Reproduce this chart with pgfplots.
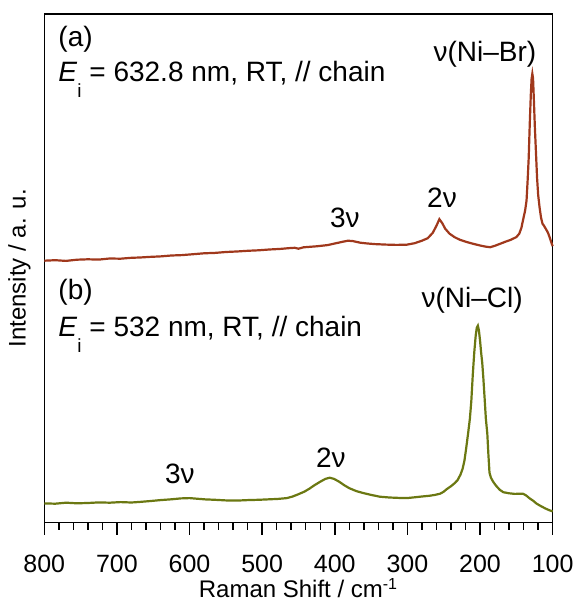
\documentclass[border=0pt]{standalone}
\usepackage{fontspec}
\setmainfont{Liberation Sans}
\usepackage{pgfplots}
\pgfplotsset{compat=1.18}
\definecolor{brbrown}{HTML}{A0381C}
\definecolor{clolive}{HTML}{6B7812}

\pgfplotstableread{
x y
800 262.0
785 262.5
770 261.8
755 263.0
740 263.4
725 263.1
710 264.2
695 264.0
680 264.9
668 265.2
655 265.8
640 266.3
625 267.2
610 267.6
595 268.5
580 269.4
565 269.8
550 270.7
535 271.2
520 271.9
505 272.4
490 273.2
475 273.8
462 274.6
455 274.9
450 274.0
443 275.4
425 276.4
410 277.6
400 279.2
390 280.8
382 282.0
375 281.6
365 280.0
355 279.2
345 278.6
330 278.1
315 277.8
301 278.0
290 279.5
280 282.0
272 284.5
265 290.0
260 297.0
256 303.5
252 299.5
248 294.0
242 289.0
235 285.5
228 283.0
219 280.8
210 279.0
200 277.2
192 276.0
186 275.5
180 276.8
172 279.0
165 281.0
158 282.8
150 285.6
146 289.0
143 295.0
141 302.0
138 312.0
136 322.0
134.5 342.0
133 365.0
131.5 400.0
130 430.0
129 444.0
128 449.0
127 444.0
126 425.0
124.5 395.0
123 370.0
121.5 345.0
120 328.0
118 315.0
116 305.0
114 299.0
112 297.0
110 294.5
108 292.0
106.5 290.0
104 285.0
102 280.5
100 276.5
}\specA

\pgfplotstableread{
x y
800 19.3
785 19.0
770 20.0
755 19.4
740 19.7
725 20.3
710 20.0
695 20.6
680 20.2
668 20.8
655 21.6
640 22.6
625 23.4
612 24.3
600 24.6
590 24.0
578 23.3
565 22.9
550 22.3
535 22.1
520 22.6
505 22.9
490 23.4
478 23.8
466 24.6
458 26.2
450 28.5
442 31.0
435 34.0
428 37.5
420 41.0
413 43.8
407 45.0
401 43.8
394 41.0
387 37.5
380 34.5
370 31.5
360 29.5
350 27.8
338 26.0
325 25.2
312 24.8
301 24.6
290 25.4
280 26.2
270 26.9
262 27.8
255 29.0
250 31.0
246 33.5
240 36.5
235 39.5
231 42.5
227 48.0
224 54.0
221.5 62.0
219 75.0
216.5 89.0
214 104.0
212 122.0
210 148.0
208 170.0
206 187.0
204.5 195.0
203 197.0
201.5 192.0
200 182.0
198.5 170.0
197 160.0
195.5 145.0
193.5 122.0
192 104.0
190 89.0
188.5 68.0
187 50.0
185 45.0
182 41.0
178 37.0
173 33.0
168 30.5
160 29.4
152 28.8
145 29.0
141 29.0
137 27.5
132 24.5
127 22.0
122 19.0
116 16.5
110 14.2
105 12.6
100 11.3
}\specB

\begin{document}
\begin{tikzpicture}
\begin{axis}[
  scale only axis,
  width=254.2pt, height=254.35pt,
  x dir=reverse,
  xmin=100, xmax=800, ymin=0, ymax=508.7,
  xtick={100,200,...,800},
  minor x tick num=4,
  xtick pos=bottom,
  tick align=outside,
  major tick length=6pt,
  minor tick length=3.5pt,
  ytick=\empty,
  axis line style={line width=0.75pt},
  every tick/.style={black, line width=0.75pt},
  /pgf/number format/assume math mode=true,
  tick label style={font=\fontsize{12.5}{14}\selectfont},
  xticklabel style={anchor=base, yshift=-19pt},
  xlabel={Raman Shift / cm\textsuperscript{-1}},
  xlabel style={font=\fontsize{12}{14}\selectfont, at={(axis description cs:0.5,0)}, anchor=base, yshift=-37.6pt},
  ylabel={Intensity / a. u.},
  ylabel style={font=\fontsize{12}{14}\selectfont, at={(axis description cs:-0.026,0.5)}, anchor=south, inner sep=0pt},
  clip=false,
]
\addplot[brbrown, line width=1.1pt] table[x=x, y=y] {\specA};
\addplot[clolive, line width=1.1pt] table[x=x, y=y] {\specB};

\begin{scope}[every node/.style={font=\fontsize{14}{16}\selectfont, inner sep=0pt}]
\node[anchor=base west] at (axis cs:781,475.7) {(a)};
\node[anchor=base west] at (axis cs:781,440.7) {\textit{E}\raisebox{-8pt}{\fontsize{9.5}{10}\selectfont i} = 632.8 nm, RT, // chain};
\node[anchor=base] at (axis cs:193.2,460.7) {ν(Ni–Br)};
\node[anchor=base] at (axis cs:252.4,314.7) {2ν};
\node[anchor=base] at (axis cs:386,294.7) {3ν};
\node[anchor=base west] at (axis cs:781,222.7) {(b)};
\node[anchor=base west] at (axis cs:781,185.7) {\textit{E}\raisebox{-8pt}{\fontsize{9.5}{10}\selectfont i} = 532 nm, RT, // chain};
\node[anchor=base] at (axis cs:211,214.7) {ν(Ni–Cl)};
\node[anchor=base] at (axis cs:405.3,55.7) {2ν};
\node[anchor=base] at (axis cs:613.2,39.7) {3ν};
\end{scope}
\end{axis}
\path ([xshift=-22.15pt,yshift=-41.15pt]current axis.south west) rectangle ([xshift=11.65pt,yshift=7pt]current axis.north east);
\end{tikzpicture}
\end{document}
